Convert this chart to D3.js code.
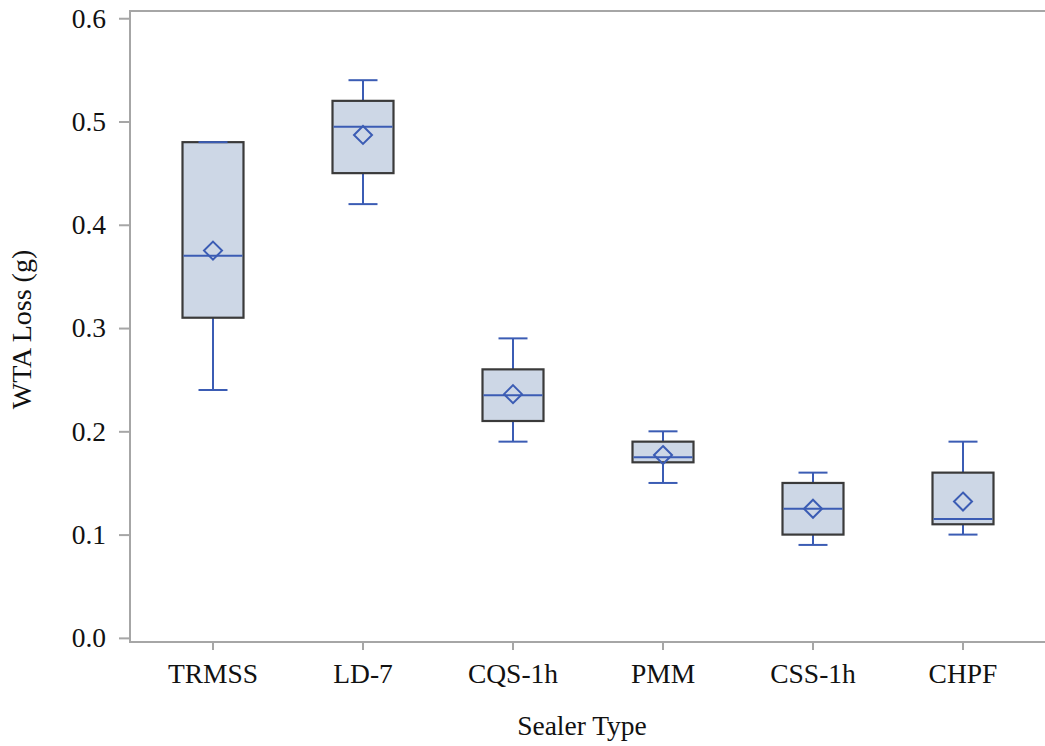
<!DOCTYPE html>
<html>
<head>
<meta charset="utf-8">
<script src="https://cdn.jsdelivr.net/npm/d3@7"></script>
<style>
  html, body { margin: 0; padding: 0; background: #ffffff; }
  svg { display: block; font-family: "Liberation Serif", "Times New Roman", serif; }
</style>
</head>
<body>
<svg id="chart" width="1045" height="746"></svg>
<script>
// Sealer types along the x axis
const categories = ["TRMSS", "LD-7", "CQS-1h", "PMM", "CSS-1h", "CHPF"];
// Box-plot statistics for WTA loss (g), one entry per sealer type
const whiskerLow  = [0.24, 0.42, 0.19, 0.15, 0.09, 0.10];
const quartile1   = [0.31, 0.45, 0.21, 0.17, 0.10, 0.11];
const medians     = [0.37, 0.495, 0.235, 0.175, 0.125, 0.115];
const means       = [0.375, 0.487, 0.236, 0.177, 0.125, 0.132];
const quartile3   = [0.48, 0.52, 0.26, 0.19, 0.15, 0.16];
const whiskerHigh = [0.48, 0.54, 0.29, 0.20, 0.16, 0.19];
const yTicks = [0.0, 0.1, 0.2, 0.3, 0.4, 0.5, 0.6];

const svg = d3.select("#chart");
const plotLeft = 130, plotRight = 1046, plotTop = 11, plotBottom = 642;
const fontFamily = "'Liberation Serif', 'Times New Roman', serif";
const labelSize = "27.5px";

const x = d3.scaleBand().domain(categories).range([138, 1038]).paddingInner(0).paddingOuter(0);
const y = d3.scaleLinear().domain([-0.004, 0.607]).range([plotBottom, plotTop]);

const axisColor = "#a6a6a6";
const blue = "#3b5cb4";
const boxFill = "#cdd7e6";
const boxStroke = "#3a3a3a";
const boxW = 61, capW = 29, dia = 9;

// Frame: top, left and bottom lines
svg.append("path")
  .attr("d", `M${plotRight},${plotTop}H${plotLeft}V${plotBottom}H${plotRight}`)
  .attr("fill", "none").attr("stroke", axisColor).attr("stroke-width", 2);

// Y axis
const yAxis = svg.append("g").attr("transform", `translate(${plotLeft},0)`)
  .call(d3.axisLeft(y).tickValues(yTicks).tickFormat(d3.format(".1f")).tickSize(11).tickPadding(13));
yAxis.select(".domain").remove();
yAxis.selectAll(".tick line").attr("stroke", axisColor).attr("stroke-width", 2);
yAxis.selectAll(".tick text").attr("fill", "#111").style("font-size", labelSize)
  .style("font-family", fontFamily);

// X axis
const xAxis = svg.append("g").attr("transform", `translate(0,${plotBottom})`)
  .call(d3.axisBottom(x).tickSize(8).tickPadding(13));
xAxis.select(".domain").remove();
xAxis.selectAll(".tick line").attr("stroke", axisColor).attr("stroke-width", 2);
xAxis.selectAll(".tick text").attr("fill", "#111").style("font-size", labelSize)
  .style("font-family", fontFamily);

// Axis titles
svg.append("text")
  .attr("x", 582).attr("y", 735)
  .attr("text-anchor", "middle").attr("fill", "#111").style("font-size", labelSize)
  .style("font-family", fontFamily)
  .text("Sealer Type");
svg.append("text")
  .attr("transform", `translate(31,${(plotTop + plotBottom) / 2 + 3}) rotate(-90)`)
  .attr("text-anchor", "middle").attr("fill", "#111").style("font-size", "28px")
  .style("font-family", fontFamily)
  .text("WTA Loss (g)");

const rows = categories.map((c, i) => ({
  c, lo: whiskerLow[i], q1: quartile1[i], med: medians[i], mean: means[i], q3: quartile3[i], hi: whiskerHigh[i]
}));

const g = svg.append("g");
rows.forEach(d => {
  const cx = x(d.c) + x.bandwidth() / 2;
  const grp = g.append("g");
  // Whiskers
  grp.append("line").attr("x1", cx).attr("x2", cx).attr("y1", y(d.q3)).attr("y2", y(d.hi))
    .attr("stroke", blue).attr("stroke-width", 2);
  grp.append("line").attr("x1", cx).attr("x2", cx).attr("y1", y(d.q1)).attr("y2", y(d.lo))
    .attr("stroke", blue).attr("stroke-width", 2);
  // Box
  grp.append("rect").attr("x", cx - boxW / 2).attr("y", y(d.q3))
    .attr("width", boxW).attr("height", y(d.q1) - y(d.q3))
    .attr("fill", boxFill).attr("stroke", boxStroke).attr("stroke-width", 2.2);
  // Caps
  [d.lo, d.hi].forEach(v => {
    grp.append("line").attr("x1", cx - capW / 2).attr("x2", cx + capW / 2)
      .attr("y1", y(v)).attr("y2", y(v)).attr("stroke", blue).attr("stroke-width", 2);
  });
  // Median
  grp.append("line").attr("x1", cx - boxW / 2 + 1).attr("x2", cx + boxW / 2 - 1)
    .attr("y1", y(d.med)).attr("y2", y(d.med)).attr("stroke", blue).attr("stroke-width", 2);
  // Mean marker
  const my = y(d.mean);
  grp.append("path")
    .attr("d", `M${cx},${my - dia}L${cx + dia},${my}L${cx},${my + dia}L${cx - dia},${my}Z`)
    .attr("fill", "none").attr("stroke", blue).attr("stroke-width", 2);
});
</script>
</body>
</html>
